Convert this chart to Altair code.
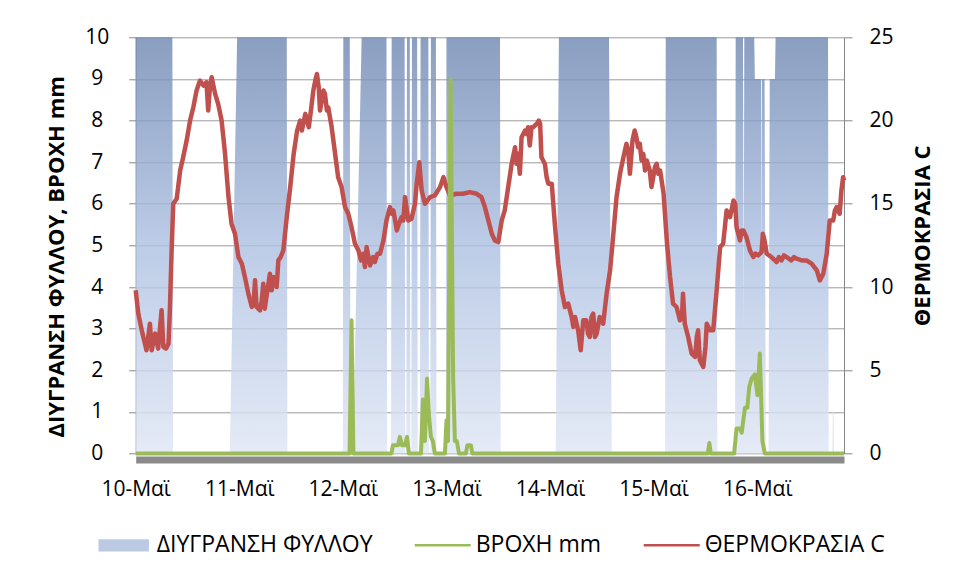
import altair as alt
import pandas as pd

# time axis: hours after 10-May 00:00
END_H = 164.1
day_ticks = [0, 24, 48, 72, 96, 120, 144]
series = ["ΔΙΥΓΡΑΝΣΗ ΦΥΛΛΟΥ", "ΒΡΟΧΗ mm", "ΘΕΡΜΟΚΡΑΣΙΑ C"]

# leaf wetness (0 dry / 10 wet)
wet_h = [0, 8.5, 8.65,
         21.8, 23.5, 35.0, 35.15,
         48.0, 48.1, 49.6, 49.75,
         50.3, 52.35, 58.1, 58.25,
         59.15, 59.3, 62.3, 62.45,
         62.7, 62.85, 63.5, 63.65,
         63.85, 64.0, 65.2, 65.35,
         65.85, 66.0, 67.8, 67.95,
         68.25, 68.4, 69.55, 69.7,
         71.85, 72.0, 84.4, 84.55,
         97.3, 98.05, 109.65, 110.3,
         122.65, 122.8, 134.6, 134.75,
         138.85, 139.0, 140.7, 140.85, 141.0, 143.3, 143.45, 144.9, 145.0, 145.1,
         145.7, 146.0, 146.6, 146.9, 148.1, 148.25, 160.4, 160.55,
         161.4, 161.5, 161.7, 161.8, 164.1]
wet_v = [10, 10, 0,
         0, 10, 10, 0,
         0, 10, 10, 0,
         0, 10, 10, 0,
         0, 10, 10, 0,
         0, 10, 10, 0,
         0, 10, 10, 0,
         0, 10, 10, 0,
         0, 10, 10, 0,
         0, 10, 10, 0,
         0, 10, 10, 0,
         0, 10, 10, 0,
         0, 10, 10, 3, 10, 10, 9, 9, 4, 9,
         9, 0, 0, 9, 9, 10, 10, 0,
         0, 1.0, 1.0, 0, 0]

# rain (mm)
rain_h = [0,
          49.55, 50.0, 50.45,
          59.25, 59.6, 60.8, 61.2, 61.7, 62.4, 62.85, 63.3,
          66.1, 66.55, 67.0, 67.5, 67.95, 68.4, 68.85, 69.3,
          71.65, 72.0, 72.35, 72.95, 73.55, 73.95, 74.4, 74.9,
          76.5, 76.85, 77.65, 78.0,
          132.55, 132.9, 133.25,
          138.65, 139.2, 140.0, 140.4, 141.15, 141.7, 142.15, 142.7, 143.45, 144.05, 144.6, 145.2, 145.75,
          164.1]
rain_v = [0,
          0, 3.2, 0,
          0, 0.2, 0.2, 0.4, 0.2, 0.2, 0.4, 0,
          0, 1.3, 0.3, 1.8, 0.9, 0.4, 0.3, 0,
          0, 0.8, 0.3, 9.0, 1.8, 0.3, 0.3, 0,
          0, 0.2, 0.2, 0,
          0, 0.25, 0,
          0, 0.6, 0.6, 0.5, 1.1, 1.1, 1.6, 1.8, 1.9, 1.4, 2.4, 0.3, 0,
          0]

# temperature (C)
temp_h = [0, 0.6, 1.4, 2.5, 3.3, 3.7, 4.5, 5.2, 6.0, 6.4, 7.0, 7.6, 7.9, 8.3, 8.7,
          9.5, 10.3, 11.0, 11.8, 12.6, 13.35, 14.1, 14.9, 15.7, 16.4, 16.8, 17.2, 17.6,
          18.4, 19.1, 19.9, 20.7, 21.5, 22.2, 23.0, 23.8, 24.6, 25.3, 26.1, 26.9, 27.3,
          27.65, 28.0, 28.8, 29.2, 29.56, 29.9, 30.3, 31.1, 31.5, 31.9, 32.66, 33.05, 33.6,
          34.2, 35.0, 35.8, 36.6, 37.4, 38.1, 38.5, 39.3, 40.1, 40.6, 41.15, 41.6, 42.0,
          42.4, 42.7, 43.1, 43.5, 43.85, 44.3, 44.6, 45.4, 46.2, 46.9, 47.7, 48.5, 49.25,
          50.0, 50.8, 51.6, 52.2, 52.7, 53.1, 53.5, 54.3, 55.0, 55.4, 56.0, 56.6, 57.4,
          58.1, 58.9, 59.3, 59.7, 60.5, 61.0, 61.6, 62.0, 62.4, 63.15, 63.9, 64.7, 65.1,
          65.7, 66.25, 67.0, 68.2, 69.3, 70.5, 71.3, 72.0, 72.8, 74.3, 75.9, 77.4, 79.0,
          80.1, 80.9, 81.7, 82.5, 83.2, 84.0, 84.8, 85.5, 86.3, 87.1, 87.9, 88.2, 88.6,
          89.0, 89.4, 90.2, 90.6, 90.9, 91.3, 91.7, 92.1, 92.9, 93.4, 93.7, 94.0, 94.8,
          95.2, 95.6, 96.4, 97.1, 97.9, 98.7, 99.45, 100.2, 101.0, 101.4, 101.8, 102.5,
          103.1, 103.7, 104.4, 104.8, 105.2, 105.6, 106.0, 106.4, 106.8, 107.5, 108.3,
          109.1, 109.9, 110.6, 111.4, 112.2, 113.0, 113.7, 114.1, 114.5, 115.1, 115.6,
          116.0, 116.4, 116.8, 117.2, 117.6, 118.0, 118.4, 119.1, 119.5, 119.9, 120.3,
          120.7, 121.1, 121.5, 122.3, 123.1, 123.8, 124.5, 125.3, 126.1, 126.6, 126.8,
          127.2, 128.0, 128.8, 129.6, 130.0, 130.3, 130.7, 131.5, 132.0, 132.3, 133.05,
          133.8, 134.6, 135.4, 136.1, 136.9, 137.7, 138.5, 138.9, 139.2, 139.6, 140.0,
          140.4, 140.8, 141.5, 142.3, 143.1, 143.6, 144.2, 145.0, 145.3, 145.6, 146.2,
          147.3, 148.5, 149.0, 149.6, 150.2, 150.8, 151.9, 152.5, 153.1, 154.3, 155.4,
          156.6, 157.8, 158.5, 159.3, 160.1, 160.8, 161.6, 162.0, 162.4, 163.1, 163.5,
          163.9, 164.1]
temp_v = [9.8, 8.4, 7.4, 6.2, 7.8, 6.2, 7.2, 6.3, 8.6, 6.4, 6.3, 6.6, 8.5, 12.0, 15.0,
          15.3, 17.0, 17.8, 18.8, 20.0, 20.8, 21.8, 22.4, 22.1, 22.3, 20.6, 22.0, 22.6,
          21.6, 21.0, 20.0, 18.0, 15.4, 13.8, 13.2, 11.8, 11.4, 10.6, 9.6, 8.8, 9.0,
          10.4, 8.8, 8.6, 9.2, 10.2, 8.7, 9.4, 10.8, 9.8, 10.6, 10.0, 11.6, 11.8,
          12.2, 14.2, 16.0, 18.0, 19.4, 20.0, 19.4, 20.4, 19.6, 20.6, 21.8, 22.4, 22.8,
          22.0, 20.6, 21.2, 21.8, 21.6, 20.6, 20.8, 19.6, 18.0, 16.6, 16.0, 14.8, 14.4,
          13.6, 12.6, 12.2, 11.6, 12.0, 11.2, 12.4, 11.3, 11.8, 11.5, 12.0, 12.0, 12.8,
          14.0, 14.8, 14.4, 14.6, 13.4, 13.8, 14.2, 14.0, 15.4, 14.0, 14.1, 15.0, 16.2,
          17.5, 15.8, 15.0, 15.4, 15.5, 16.0, 16.6, 16.0, 15.5, 15.6, 15.6, 15.7, 15.6,
          15.4, 14.8, 14.0, 13.2, 12.8, 12.7, 14.0, 14.6, 16.0, 17.4, 18.4, 17.4, 18.0,
          16.8, 19.0, 19.4, 19.2, 19.6, 18.5, 19.6, 19.6, 19.8, 20.0, 19.8, 17.8, 17.4,
          16.6, 16.2, 16.2, 13.8, 11.4, 9.8, 8.8, 9.0, 8.2, 7.6, 8.2, 7.4,
          6.2, 8.0, 8.0, 7.2, 7.0, 8.2, 8.4, 7.0, 7.2, 8.2, 7.8,
          9.6, 11.0, 13.0, 15.4, 16.8, 17.8, 18.6, 18.2, 16.8, 18.8, 19.4,
          19.0, 18.4, 18.6, 17.6, 18.0, 17.0, 17.6, 17.0, 16.0, 16.6, 17.2,
          17.4, 16.8, 17.0, 15.6, 12.6, 10.6, 9.0, 8.8, 8.0, 8.4, 9.6,
          7.8, 7.0, 6.0, 5.8, 7.0, 7.4, 5.6, 5.2, 6.4, 7.8, 7.4,
          7.4, 9.8, 12.4, 12.6, 14.6, 14.2, 15.2, 15.0, 13.6, 13.2, 12.8,
          13.4, 13.4, 13.0, 12.2, 11.8, 12.0, 11.9, 12.1, 13.2, 12.9, 12.0,
          11.8, 11.5, 11.8, 11.6, 11.9, 11.8, 11.6, 11.8, 11.7, 11.6, 11.6,
          11.4, 11.0, 10.4, 10.8, 12.0, 14.0, 14.0, 14.6, 14.8, 14.4, 15.8,
          16.6, 16.4]

wet_df = pd.DataFrame({"h": wet_h, "v": wet_v})
rain_df = pd.DataFrame({"h": rain_h, "v": rain_v})
temp_df = pd.DataFrame({"h": temp_h, "v": temp_v})
leg_df = pd.DataFrame({"s": series})

FONT = "Open Sans"
BLUE_LEG = "#BCC9E3"
GREEN = "#9BBB59"
RED = "#C0504D"
AXIS_GRAY = "#868686"
TICK_FS = 21
TITLE_FS = 22

xscale = alt.Scale(domain=[0, END_H], nice=False, zero=False)
xaxis = alt.Axis(values=day_ticks, labelExpr="(10 + round(datum.value/24)) + '-Μαϊ'",
                 grid=False, ticks=False, domainWidth=7, domainColor="#8a8a8a",
                 offset=6, labelPadding=19, labelFontSize=TICK_FS, labelColor="#000000",
                 labelFont=FONT, labelOverlap=False, labelFlush=False, title=None)
x_enc = alt.X("h:Q", scale=xscale, axis=xaxis)

left_axis = alt.Axis(values=list(range(11)), tickSize=7, tickColor=AXIS_GRAY,
                     domainColor=AXIS_GRAY, labelAlign="center", labelPadding=32,
                     labelFontSize=TICK_FS, labelColor="#000000", labelFont=FONT,
                     labelOverlap=False,
                     grid=True, gridColor="#9c9c9c", gridWidth=1,
                     title="ΔΙΥΓΡΑΝΣΗ ΦΥΛΛΟΥ, ΒΡΟΧΗ mm", titleFont=FONT,
                     titleFontSize=TITLE_FS, titleFontWeight="bold", titleColor="#000000",
                     titleX=-79, titleY=219, titleAngle=270, titleAlign="center",
                     titleBaseline="middle")
right_axis = alt.Axis(orient="right", values=[0, 5, 10, 15, 20, 25], tickSize=8,
                      tickColor=AXIS_GRAY, domainColor=AXIS_GRAY, labelAlign="left",
                      labelPadding=17, labelFontSize=TICK_FS, labelColor="#000000",
                      labelFont=FONT, labelOverlap=False, grid=False,
                      title="ΘΕΡΜΟΚΡΑΣΙΑ C", titleFont=FONT, titleFontSize=TITLE_FS,
                      titleFontWeight="bold", titleColor="#000000",
                      titleX=78, titleY=198, titleAngle=270, titleAlign="center",
                      titleBaseline="middle")

gradient = alt.Gradient(gradient="linear", x1=0, y1=0, x2=0, y2=1,
                        stops=[alt.GradientStop(offset=0, color="#7189B3"),
                               alt.GradientStop(offset=0.5, color="#AEC1E2"),
                               alt.GradientStop(offset=1, color="#DFE6F4")])

area = alt.Chart(wet_df).mark_area(fill=gradient, opacity=0.82, interpolate="linear").encode(
    x=x_enc,
    y=alt.Y("v:Q", scale=alt.Scale(domain=[0, 10], nice=False), axis=left_axis),
)

temp = alt.Chart(temp_df).mark_line(color=RED, strokeWidth=4.5, strokeJoin="round").encode(
    x=x_enc,
    y=alt.Y("v:Q", scale=alt.Scale(domain=[0, 25], nice=False), axis=right_axis),
)

rain = alt.Chart(rain_df).mark_line(color=GREEN, strokeWidth=4, strokeJoin="round").encode(
    x=x_enc,
    y=alt.Y("v:Q", scale=alt.Scale(domain=[0, 10], nice=False), axis=None),
)

swatch_path = "M-0.9,-0.22H0.9V0.22H-0.9Z"
line_path = "M-1,-0.045H1V0.045H-1Z"
leg_kwargs = dict(title=None, orient="none", legendX=-40, legendY=480, direction="horizontal",
                  labelFontSize=23, labelFont=FONT, labelColor="#000000", symbolSize=3136,
                  symbolStrokeWidth=0, labelOffset=5, columnPadding=42, symbolOpacity=1,
                  labelLimit=600)
legend_pts = alt.Chart(leg_df).mark_point(filled=True, opacity=0).encode(
    color=alt.Color("s:N", scale=alt.Scale(domain=series, range=[BLUE_LEG, GREEN, RED]),
                    legend=alt.Legend(**leg_kwargs)),
    shape=alt.Shape("s:N", scale=alt.Scale(domain=series, range=[swatch_path, line_path, line_path]),
                    legend=alt.Legend(**leg_kwargs)),
)

chart = alt.layer(area, temp, rain, legend_pts).resolve_scale(y="independent").properties(
    width=708.3, height=416.2,
    autosize=alt.AutoSizeParams(type="none"),
    padding={"left": 127.7, "top": 29.3, "right": 106.0, "bottom": 118.5},
    background="white",
).configure_view(stroke=None)

chart.save("out.html", embed_options={"renderer": "svg", "actions": False})
